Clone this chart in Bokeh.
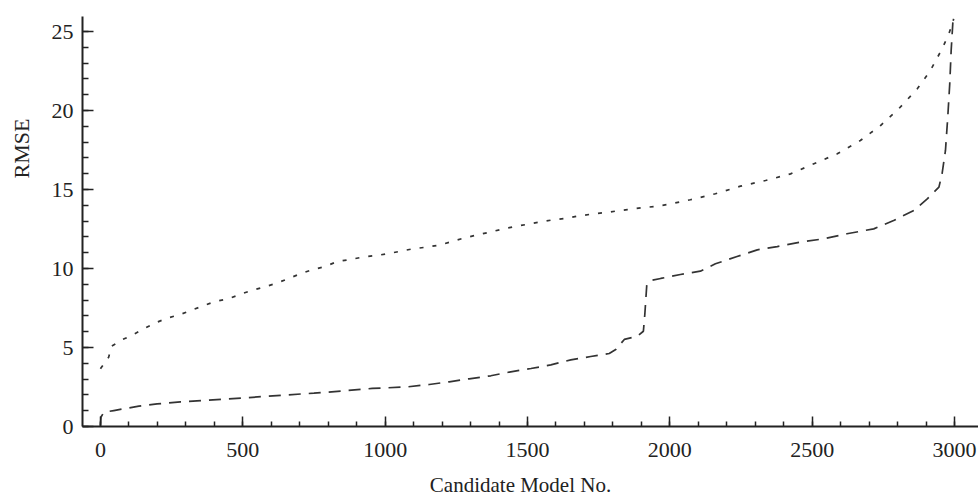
from bokeh.plotting import figure
from bokeh.models import Range1d, SingleIntervalTicker, LinearAxis, Label
from bokeh.embed import file_html
from bokeh.resources import INLINE

# ---- data ----
upper_x = [0, 29, 39, 76, 114, 152, 193, 234, 278, 316, 361, 402, 445, 486, 530, 574, 618, 659,
           701, 744, 789, 832, 877, 920, 967, 1008, 1055, 1096, 1143, 1190, 1231, 1272, 1318,
           1362, 1406, 1451, 1494, 1539, 1582, 1629, 1673, 1717, 1763, 1810, 1851, 1898, 1945,
           1992, 2072, 2160, 2248, 2336, 2424, 2506, 2588, 2669, 2740, 2804, 2869, 2915, 2956,
           2980, 2997]
upper_y = [3.65, 4.39, 5.08, 5.49, 5.80, 6.18, 6.56, 6.86, 7.07, 7.34, 7.64, 7.91, 8.06, 8.33,
           8.61, 8.82, 9.07, 9.35, 9.66, 9.92, 10.13, 10.44, 10.57, 10.72, 10.82, 10.93, 11.10,
           11.24, 11.35, 11.48, 11.69, 11.90, 12.11, 12.28, 12.47, 12.64, 12.78, 12.93, 13.06,
           13.16, 13.31, 13.42, 13.52, 13.63, 13.73, 13.84, 13.92, 14.05, 14.35, 14.73, 15.21,
           15.57, 15.99, 16.63, 17.26, 18.10, 19.05, 20.11, 21.37, 22.53, 23.90, 24.85, 25.80]

lower_x = [0, 2, 12, 47, 82, 135, 199, 281, 363, 434, 504, 574, 656, 750, 844, 955, 1008, 1078,
           1155, 1225, 1295, 1371, 1441, 1512, 1582, 1652, 1722, 1787, 1810, 1840, 1886, 1907,
           1912, 1919, 1933, 1968, 2037, 2107, 2160, 2236, 2307, 2377, 2459, 2541, 2622, 2716,
           2786, 2857, 2904, 2945, 2956, 2968, 2976, 2983, 2988, 2995]
lower_y = [0.06, 0.60, 0.90, 1.01, 1.12, 1.29, 1.43, 1.56, 1.65, 1.73, 1.81, 1.90, 2.00, 2.11,
           2.24, 2.41, 2.45, 2.51, 2.66, 2.83, 3.02, 3.21, 3.46, 3.67, 3.90, 4.22, 4.43, 4.62,
           4.87, 5.51, 5.72, 6.03, 7.09, 8.99, 9.24, 9.37, 9.62, 9.83, 10.30, 10.76, 11.18,
           11.39, 11.67, 11.88, 12.20, 12.51, 13.04, 13.67, 14.41, 15.15, 15.99, 17.47, 19.58,
           21.69, 23.80, 25.90]

x_label = "Candidate Model No."
y_label = "RMSE"

FONT = "Liberation Serif"
INK = "#222222"
LINE = "#333333"

W, H = 978, 500
p = figure(width=W, height=H, output_backend="svg", toolbar_location=None,
           x_range=Range1d(-63, 3084), y_range=Range1d(0, 25.95),
           x_axis_type=None, y_axis_type=None,
           min_border_left=82, min_border_right=0, min_border_top=16, min_border_bottom=74)
p.outline_line_color = None
p.background_fill_color = "white"
p.border_fill_color = "white"

xaxis = LinearAxis(ticker=SingleIntervalTicker(interval=500, num_minor_ticks=5))
yaxis = LinearAxis(ticker=SingleIntervalTicker(interval=5, num_minor_ticks=5))
for ax in (xaxis, yaxis):
    ax.axis_line_color = INK
    ax.axis_line_width = 2
    ax.major_tick_line_color = INK
    ax.minor_tick_line_color = INK
    ax.major_tick_line_width = 1.5
    ax.minor_tick_line_width = 1.5
    ax.major_tick_out = 0
    ax.minor_tick_out = 0
    ax.major_label_text_font = FONT
    ax.major_label_text_font_size = "22px"
    ax.major_label_text_color = INK
xaxis.major_tick_in = 10
xaxis.minor_tick_in = 5
yaxis.major_tick_in = 11
yaxis.minor_tick_in = 6
xaxis.major_label_standoff = 16
yaxis.major_label_standoff = 9
p.add_layout(xaxis, "below")
p.add_layout(yaxis, "left")

p.xgrid.visible = False
p.ygrid.visible = False

p.line(upper_x, upper_y, line_color=LINE, line_width=1.7, line_dash="4 9")
p.line(lower_x, lower_y, line_color=LINE, line_width=1.7, line_dash="12 8")

ylab = Label(x=21, y=148, x_units="canvas", y_units="canvas", text=y_label,
             angle=1.5707963, text_align="center", text_baseline="middle",
             text_font=FONT, text_font_size="22px", text_color=INK)
p.add_layout(ylab, "left")

xlab = Label(x=520, y=484, x_units="canvas", y_units="canvas", text=x_label,
             text_align="center", text_baseline="middle",
             text_font=FONT, text_font_size="21px", text_color=INK)
p.add_layout(xlab, "below")

open("out.html", "w").write(file_html(p, INLINE))
